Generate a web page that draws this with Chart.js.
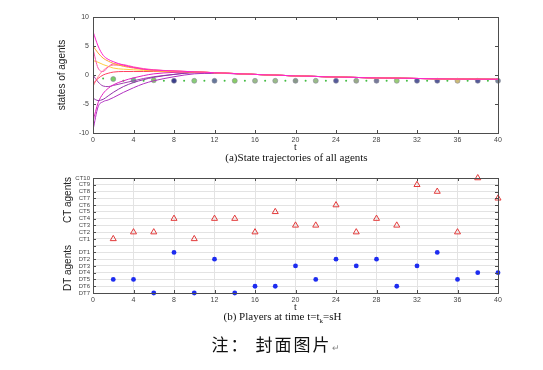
<!DOCTYPE html>
<html>
<head>
<meta charset="utf-8">
<script src="https://cdn.jsdelivr.net/npm/chart.js@4.4.0/dist/chart.umd.min.js"></script>
<style>
  body { margin: 0; background: #fff; }
  #page { position: relative; width: 543px; height: 370px; overflow: hidden; background: #fff; }
  #topWrap { position: absolute; left: 0; top: 0; width: 543px; height: 165px; }
  #botWrap { position: absolute; left: 0; top: 165px; width: 543px; height: 165px; }
  .cap { position: absolute; left: 0; width: 543px; text-align: center; font-family: "Liberation Serif", serif; color: #111; }
  .ylab { position: absolute; font-family: "Liberation Sans", Arial, sans-serif; font-size: 10px; color: #222;
          transform: translate(-50%, -50%) rotate(-90deg); white-space: nowrap; }
</style>
</head>
<body>
<div id="page">
  <div id="topWrap"><canvas id="stateChart" width="543" height="165"></canvas></div>
  <div id="botWrap"><canvas id="playerChart" width="543" height="165"></canvas></div>
  <div class="cap" style="top:151px;font-size:11px;padding-left:50px;box-sizing:border-box;">(a)State trajectories of all agents</div>
  <div class="cap" style="top:310px;font-size:11px;padding-left:22px;box-sizing:border-box;">(b) Players at time t=t<sub style="font-size:7px">k</sub>=sH</div>
  <div class="cap" style="top:331px;font-size:17px;font-family:'Noto Sans CJK SC',sans-serif;letter-spacing:2px;padding-left:10px;box-sizing:border-box;">注：<span style="margin-left:6px">封面图片</span><span style="font-size:9px;color:#888">↵</span></div>
  <div class="ylab" style="left:67px;top:200px;">CT agents</div>
  <div class="ylab" style="left:67px;top:268px;">DT agents</div>
</div>
<script>
// ---- (a) state trajectories ----
const tGrid = [0, 0.5, 1, 1.5, 2, 3, 4, 5, 6, 8, 10, 12, 16, 20, 24, 28, 32, 36, 40];
const agent1 = [7.5, 5.0, 3.4, 2.7, 2.3, 1.7, 1.3, 1.0, 0.85, 0.7, 0.55, 0.4, 0.1, -0.15, -0.35, -0.5, -0.6, -0.7, -0.75];
const agent2 = [5.0, 3.8, 2.9, 2.4, 2.0, 1.5, 1.2, 0.95, 0.8, 0.65, 0.55, 0.4, 0.1, -0.15, -0.35, -0.5, -0.6, -0.7, -0.75];
const agent3 = [4.5, 1.2, 0.6, 1.4, 1.9, 1.8, 1.4, 1.1, 0.9, 0.7, 0.55, 0.4, 0.1, -0.15, -0.35, -0.5, -0.6, -0.7, -0.75];
const agent4 = [2.5, 2.2, 1.8, 1.5, 1.2, 1.0, 0.9, 0.8, 0.7, 0.6, 0.55, 0.4, 0.1, -0.15, -0.35, -0.5, -0.6, -0.7, -0.75];
const agent5 = [-1.5, -0.6, 0.0, 0.3, 0.5, 0.6, 0.6, 0.6, 0.6, 0.55, 0.5, 0.4, 0.1, -0.15, -0.35, -0.5, -0.6, -0.7, -0.75];
const agent6 = [-2.0, -0.3, 0.8, 1.4, 1.7, 1.6, 1.3, 1.0, 0.85, 0.7, 0.55, 0.4, 0.1, -0.15, -0.35, -0.5, -0.6, -0.7, -0.75];
const agent7 = [-4.0, -4.4, -4.2, -3.6, -3.0, -2.0, -1.3, -0.8, -0.4, 0.1, 0.4, 0.35, 0.1, -0.15, -0.35, -0.5, -0.6, -0.7, -0.75];
const agent8 = [-8.0, -4.8, -3.2, -2.3, -1.7, -1.0, -0.5, -0.1, 0.2, 0.45, 0.5, 0.4, 0.1, -0.15, -0.35, -0.5, -0.6, -0.7, -0.75];
const agent9 = [-9.5, -5.5, -4.6, -4.3, -3.9, -3.0, -2.2, -1.5, -1.0, -0.3, 0.2, 0.3, 0.1, -0.15, -0.35, -0.5, -0.6, -0.7, -0.75];
const agent10 = [0.0, -1.2, -1.9, -2.0, -1.8, -1.4, -1.0, -0.6, -0.3, 0.1, 0.4, 0.35, 0.1, -0.15, -0.35, -0.5, -0.6, -0.7, -0.75];
const agents = [agent1, agent2, agent3, agent4, agent5, agent6, agent7, agent8, agent9, agent10];
const agentColors = ['#ff22cc', '#ffa033', '#ff55aa', '#ffcc40', '#ff4060', '#ff8899', '#9030a8', '#e020c0', '#b030c0', '#a040b0'];

// sampled DT state (big markers) and in-between dots
const dtTimes = [2, 4, 6, 8, 10, 12, 14, 16, 18, 20, 22, 24, 26, 28, 30, 32, 34, 36, 38, 40];
const dtState = [-0.7, -0.9, -0.9, -1.0, -1.0, -1.0, -1.0, -1.0, -1.0, -1.0, -1.0, -1.0, -1.0, -1.0, -1.0, -1.0, -1.0, -1.0, -1.0, -1.0];
const dtColors = ['#77cc66', '#66bb88', '#88cc66', '#3a3f8a', '#88cc77', '#667799', '#88cc66', '#99bb88', '#99bb88', '#889988',
                  '#99bb88', '#555a99', '#99aa88', '#777a99', '#99cc77', '#555a99', '#555a99', '#ccbb77', '#555a99', '#778899'];
const oddTimes = [1, 3, 5, 7, 9, 11, 13, 15, 17, 19, 21, 23, 25, 27, 29, 31, 33, 35, 37, 39];
const oddState = [-0.6, -1.0, -1.0, -1.0, -1.0, -1.0, -1.0, -1.0, -1.0, -1.0, -1.0, -1.0, -1.0, -1.0, -1.0, -1.0, -1.0, -1.0, -1.0, -1.0];

// ---- (b) players ----
const rowLabels = ['DT7', 'DT6', 'DT5', 'DT4', 'DT3', 'DT2', 'DT1', '', 'CT1', 'CT2', 'CT3', 'CT4', 'CT5', 'CT6', 'CT7', 'CT8', 'CT9', 'CT10'];
const playTimes = [2, 4, 6, 8, 10, 12, 14, 16, 18, 20, 22, 24, 26, 28, 30, 32, 34, 36, 38, 40];
const ctPlayer = [1, 2, 2, 4, 1, 4, 4, 2, 5, 3, 3, 6, 2, 4, 3, 9, 8, 2, 10, 7];
const dtPlayer = [5, 5, 7, 1, 7, 2, 7, 6, 6, 3, 5, 2, 3, 2, 6, 3, 1, 5, 4, 4];

const tickFont = { family: 'Liberation Sans', size: 7 };

// box round the plot area with small inward ticks
const framePlugin = {
  id: 'frame',
  afterDraw(chart) {
    const { ctx, chartArea: a, scales } = chart;
    ctx.save();
    ctx.strokeStyle = '#4d4d4d';
    ctx.lineWidth = 1;
    ctx.beginPath();
    scales.x.ticks.forEach(t => {
      const px = Math.round(scales.x.getPixelForValue(t.value)) + 0.5;
      ctx.moveTo(px, a.bottom); ctx.lineTo(px, a.bottom - 3);
      ctx.moveTo(px, a.top); ctx.lineTo(px, a.top + 3);
    });
    scales.y.ticks.forEach(t => {
      const py = Math.round(scales.y.getPixelForValue(t.value)) + 0.5;
      ctx.moveTo(a.left, py); ctx.lineTo(a.left + 3, py);
      ctx.moveTo(a.right, py); ctx.lineTo(a.right - 3, py);
    });
    ctx.stroke();
    ctx.strokeRect(Math.round(a.left) + 0.5, Math.round(a.top) + 0.5, Math.round(a.width), Math.round(a.height));
    ctx.restore();
  }
};

const xAxis = (height) => ({
  type: 'linear', min: 0, max: 40,
  grid: { display: false, drawTicks: false },
  border: { display: false },
  ticks: { stepSize: 4, font: tickFont, color: '#444', padding: 3, maxRotation: 0 },
  title: { display: true, text: 't', font: { family: 'Liberation Serif', size: 10 }, color: '#222', padding: 0 },
  afterFit(scale) { scale.height = height; }
});

const stateSets = agents.map((vals, i) => ({
  data: tGrid.map((t, j) => ({ x: t, y: vals[j] })),
  borderColor: agentColors[i],
  borderWidth: 1,
  pointRadius: 0,
  cubicInterpolationMode: 'monotone'
}));
stateSets.push({
  data: oddTimes.map((t, j) => ({ x: t, y: oddState[j] })),
  showLine: false, pointRadius: 1, pointBackgroundColor: '#44bb44', pointBorderWidth: 0
});
stateSets.push({
  data: dtTimes.map((t, j) => ({ x: t, y: dtState[j] })),
  showLine: false, pointRadius: 2.5, pointBackgroundColor: dtColors, pointBorderColor: '#8a8a9a', pointBorderWidth: 0.6,
  clip: false
});

new Chart(document.getElementById('stateChart'), {
  type: 'line',
  data: { datasets: stateSets },
  options: {
    responsive: false, animation: false,
    layout: { padding: { left: 56, right: 45, top: 17, bottom: 12 } },
    plugins: { legend: { display: false }, tooltip: { enabled: false } },
    scales: {
      x: xAxis(20),
      y: {
        min: -10, max: 10,
        grid: { display: false, drawTicks: false },
        border: { display: false },
        ticks: { stepSize: 5, font: tickFont, color: '#444', padding: 4 },
        title: { display: true, text: 'states of agents', font: { family: 'Liberation Sans', size: 10 }, color: '#222', padding: 0 },
        afterFit(scale) { scale.width = 37; }
      }
    }
  },
  plugins: [framePlugin]
});

new Chart(document.getElementById('playerChart'), {
  type: 'scatter',
  data: {
    datasets: [
      {
        data: playTimes.map((t, j) => ({ x: t, y: rowLabels.indexOf('CT' + ctPlayer[j]) })),
        pointStyle: 'triangle', pointRadius: 3.5, pointBackgroundColor: 'rgba(0,0,0,0)',
        pointBorderColor: '#e23a3a', pointBorderWidth: 1, clip: false
      },
      {
        data: playTimes.map((t, j) => ({ x: t, y: rowLabels.indexOf('DT' + dtPlayer[j]) })),
        pointStyle: 'circle', pointRadius: 2.4, pointBackgroundColor: '#1d2cf0',
        pointBorderColor: '#1d2cf0', pointBorderWidth: 0, clip: false
      }
    ]
  },
  options: {
    responsive: false, animation: false,
    layout: { padding: { left: 0, right: 45, top: 13, bottom: 17 } },
    plugins: { legend: { display: false }, tooltip: { enabled: false } },
    scales: {
      x: Object.assign(xAxis(20), { grid: { display: true, drawTicks: false, color: '#e3e3e3' } }),
      y: {
        min: 0, max: rowLabels.length - 1,
        grid: { display: true, drawTicks: false, color: '#e3e3e3' },
        border: { display: false },
        ticks: {
          stepSize: 1, autoSkip: false, font: { family: 'Liberation Sans', size: 6 }, color: '#444', padding: 3,
          callback: v => rowLabels[v]
        },
        afterFit(scale) { scale.width = 93; }
      }
    }
  },
  plugins: [framePlugin]
});
</script>
</body>
</html>
